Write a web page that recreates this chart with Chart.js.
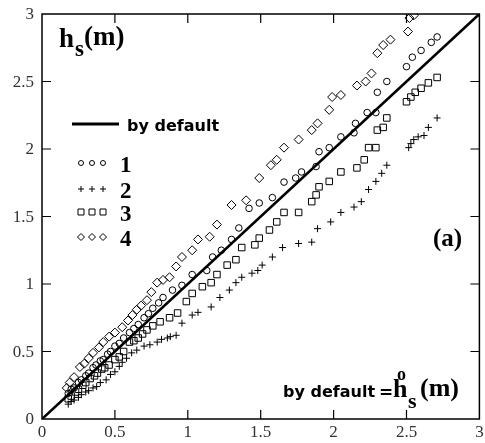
<!DOCTYPE html>
<html><head><meta charset="utf-8">
<script src="https://cdn.jsdelivr.net/npm/chart.js@4.4.1/dist/chart.umd.min.js"></script>
<style>html,body{margin:0;padding:0;background:#fff;} #wrap{width:485px;height:443px;position:relative;}</style>
</head><body><div id="wrap"><canvas id="c"></canvas></div>
<script>
// ---- data ----
const tickValues = [0, 0.5, 1, 1.5, 2, 2.5, 3];
const tickLabels = ["0", "0.5", "1", "1.5", "2", "2.5", "3"];
const lineX = [0, 3];
const lineY = [0, 3];
const seriesNames = ["by default", "1", "2", "3", "4"];

// series 1 (circles)
const s1X = [0.18,0.2,0.22,0.25,0.27,0.3,0.32,0.35,0.37,0.4,0.42,0.45,0.47,0.5,0.53,0.56,0.6,0.63,0.66,0.7,0.73,0.76,0.8,
  0.83,0.895,0.96,1.03,1.13,1.17,1.23,1.30,1.35,1.42,1.49,1.58,1.66,1.74,1.78,1.88,1.90,1.97,2.05,2.14,2.15,2.23,2.29,2.30,2.365,2.50,2.54,2.60,2.67,2.71];
const s1Y = [0.19,0.22,0.23,0.27,0.29,0.32,0.34,0.38,0.40,0.43,0.44,0.48,0.50,0.54,0.56,0.60,0.64,0.67,0.70,0.75,0.78,0.82,0.86,
  0.90,0.955,0.99,1.07,1.10,1.20,1.25,1.33,1.415,1.56,1.60,1.64,1.755,1.785,1.83,1.87,1.98,2.01,2.09,2.12,2.19,2.27,2.27,2.42,2.50,2.61,2.68,2.73,2.79,2.83];

// series 2 (plus)
const s2X = [0.18,0.2,0.22,0.25,0.27,0.3,0.32,0.35,0.375,0.4,0.44,0.47,0.50,0.53,0.55,0.58,0.615,0.65,0.70,0.74,0.79,0.82,0.86,0.88,0.92,0.96,1.03,1.07,1.16,1.22,1.285,1.33,1.37,1.44,1.48,1.51,1.58,1.65,1.76,1.85,1.89,1.98,2.05,2.14,2.19,2.24,2.29,2.33,2.365,2.515,2.53,2.55,2.58,2.62,2.65,2.71];
const s2Y = [0.11,0.13,0.14,0.16,0.18,0.20,0.21,0.23,0.24,0.27,0.29,0.33,0.35,0.39,0.42,0.45,0.49,0.51,0.54,0.55,0.57,0.59,0.60,0.61,0.62,0.71,0.77,0.79,0.83,0.90,0.955,1.01,1.05,1.08,1.10,1.14,1.20,1.27,1.30,1.31,1.41,1.46,1.53,1.57,1.61,1.70,1.76,1.82,1.88,2.01,2.04,2.07,2.09,2.10,2.16,2.23];

// series 3 (squares)
const s3X = [0.18,0.2,0.23,0.25,0.28,0.3,0.33,0.36,0.38,0.41,0.43,0.46,0.5,0.53,0.56,0.60,0.63,0.66,0.69,0.72,0.76,0.81,0.875,0.93,0.99,1.03,1.10,1.16,1.20,1.27,1.33,1.37,1.46,1.49,1.56,1.61,1.66,1.76,1.85,1.88,1.90,1.97,2.05,2.16,2.21,2.24,2.29,2.30,2.34,2.365,2.50,2.53,2.56,2.60,2.65,2.71];
const s3Y = [0.15,0.17,0.20,0.22,0.25,0.27,0.30,0.32,0.34,0.37,0.38,0.40,0.44,0.46,0.50,0.57,0.58,0.60,0.63,0.66,0.69,0.72,0.75,0.785,0.87,0.93,0.98,1.01,1.07,1.14,1.18,1.27,1.29,1.34,1.40,1.46,1.53,1.53,1.61,1.66,1.72,1.76,1.83,1.86,1.92,2.01,2.01,2.14,2.16,2.23,2.35,2.385,2.42,2.45,2.49,2.53];

// series 4 (diamonds)
const s4X = [0.17,0.19,0.22,0.26,0.29,0.32,0.35,0.39,0.42,0.46,0.5,0.55,0.59,0.62,0.65,0.68,0.72,0.75,0.79,0.83,0.875,0.92,0.96,1.03,1.07,1.15,1.20,1.30,1.40,1.49,1.57,1.61,1.66,1.76,1.85,1.89,1.97,1.99,2.05,2.16,2.22,2.26,2.30,2.34,2.39,2.51,2.52,2.55];
const s4Y = [0.23,0.27,0.31,0.385,0.41,0.45,0.49,0.53,0.57,0.61,0.64,0.68,0.73,0.77,0.81,0.84,0.88,0.94,1.01,1.03,1.05,1.13,1.20,1.25,1.33,1.35,1.44,1.585,1.62,1.785,1.88,1.92,2.01,2.07,2.14,2.19,2.29,2.385,2.40,2.47,2.50,2.56,2.71,2.77,2.81,2.87,2.97,2.99];

const pts = (xs, ys) => xs.map((x, i) => ({x: x, y: ys[i]}));

const SERIF = '"Liberation Serif", serif';
const SANS = '"DejaVu Sans", sans-serif';

function sym(ctx, type, x, y) {
  ctx.beginPath();
  if (type === 'circle') { ctx.arc(x, y, 2.5, 0, Math.PI * 2); }
  else if (type === 'cross') { ctx.moveTo(x - 3, y); ctx.lineTo(x + 3, y); ctx.moveTo(x, y - 3); ctx.lineTo(x, y + 3); }
  else if (type === 'rect') { ctx.rect(x - 3, y - 3, 6, 6); }
  else { ctx.moveTo(x, y - 3.5); ctx.lineTo(x + 3.5, y); ctx.lineTo(x, y + 3.5); ctx.lineTo(x - 3.5, y); ctx.closePath(); }
  ctx.stroke();
}

const decor = {
  id: 'decor',
  afterDraw(chart) {
    const ctx = chart.ctx;
    const a = chart.chartArea;
    const xs = chart.scales.x, ys = chart.scales.y;
    ctx.save();
    ctx.strokeStyle = '#000';
    ctx.lineWidth = 1.5;
    ctx.strokeRect(a.left, a.top, a.right - a.left, a.bottom - a.top);
    const TL = 9;
    ctx.lineWidth = 1.2;
    ctx.beginPath();
    tickValues.slice(1, -1).forEach(v => {
      const px = xs.getPixelForValue(v);
      ctx.moveTo(px, a.bottom); ctx.lineTo(px, a.bottom - TL);
      ctx.moveTo(px, a.top); ctx.lineTo(px, a.top + TL);
      const py = ys.getPixelForValue(v);
      ctx.moveTo(a.left, py); ctx.lineTo(a.left + TL, py);
      ctx.moveTo(a.right, py); ctx.lineTo(a.right - TL, py);
    });
    ctx.stroke();

    // tick labels
    ctx.fillStyle = '#333';
    ctx.font = '17px ' + SERIF;
    ctx.textAlign = 'right'; ctx.textBaseline = 'middle';
    tickValues.forEach((v, i) => ctx.fillText(tickLabels[i], a.left - 8, ys.getPixelForValue(v) + 1));
    ctx.textAlign = 'center'; ctx.textBaseline = 'top';
    tickValues.forEach((v, i) => ctx.fillText(tickLabels[i], xs.getPixelForValue(v), a.bottom + 5));

    ctx.fillStyle = '#000';
    ctx.textBaseline = 'alphabetic';
    ctx.textAlign = 'left';
    // title h_s(m)
    ctx.font = 'bold 27px ' + SERIF;
    ctx.fillText('h', 59, 47);
    ctx.font = 'bold 23px ' + SERIF;
    ctx.fillText('s', 75, 56);
    ctx.font = 'bold 27px ' + SERIF;
    ctx.fillText('(m)', 84, 45);

    // legend
    ctx.lineWidth = 2.8;
    ctx.beginPath(); ctx.moveTo(72, 124); ctx.lineTo(119, 124); ctx.stroke();
    ctx.font = 'bold 16px ' + SANS;
    ctx.fillText(seriesNames[0], 127, 131);
    const types = ['circle', 'cross', 'rect', 'rectRot'];
    const rowsY = [163, 189, 212, 237];
    ctx.lineWidth = 1;
    types.forEach((t, i) => {
      [81, 92, 103].forEach(x => sym(ctx, t, x, rowsY[i]));
      ctx.font = 'bold 23px ' + SERIF;
      ctx.fillText(seriesNames[i + 1], 120, rowsY[i] + 9);
    });

    // (a)
    ctx.font = 'bold 25px ' + SERIF;
    ctx.fillText('(a)', 433, 246);

    // by default = h_s^o (m)
    ctx.font = 'bold 16px ' + SANS;
    ctx.fillText('by default', 283, 397);
    ctx.font = 'bold 17px ' + SANS;
    ctx.fillText('=', 379, 398);
    ctx.font = 'bold 26px ' + SERIF;
    ctx.fillText('h', 393, 397);
    ctx.font = 'bold 18px ' + SERIF;
    ctx.fillText('o', 397, 380);
    ctx.font = 'bold 22px ' + SERIF;
    ctx.fillText('s', 408, 408);
    ctx.font = 'bold 26px ' + SERIF;
    ctx.fillText('(m)', 420, 396);
    ctx.restore();
  }
};

const mk = (label, xs, ys, style, r) => ({
  type: 'scatter', label: label, data: pts(xs, ys), pointStyle: style, pointRadius: r,
  borderColor: '#000', backgroundColor: 'rgba(0,0,0,0)', pointBorderWidth: 1, showLine: false
});

new Chart(document.getElementById('c'), {
  type: 'scatter',
  data: {
    datasets: [
      { type: 'line', label: seriesNames[0], data: pts(lineX, lineY), borderColor: '#000', borderWidth: 2.6, pointRadius: 0, fill: false },
      mk(seriesNames[1], s1X, s1Y, 'circle', 3.3),
      mk(seriesNames[2], s2X, s2Y, 'cross', 3.5),
      mk(seriesNames[3], s3X, s3Y, 'rect', 4.6),
      mk(seriesNames[4], s4X, s4Y, 'rectRot', 4.5)
    ]
  },
  options: {
    responsive: true, maintainAspectRatio: false, animation: false, events: [],
    layout: { padding: { top: 14, right: 4, left: 0, bottom: 0 } },
    plugins: { legend: { display: false }, tooltip: { enabled: false } },
    scales: {
      x: {
        type: 'linear', min: 0, max: 3,
        afterBuildTicks: s => { s.ticks = tickValues.map(v => ({ value: v })); },
        afterFit: s => { s.height = 24; },
        grid: { display: false, drawTicks: false }, border: { display: false },
        ticks: { display: false }
      },
      y: {
        type: 'linear', min: 0, max: 3,
        afterBuildTicks: s => { s.ticks = tickValues.map(v => ({ value: v })); },
        afterFit: s => { s.width = 42; },
        grid: { display: false, drawTicks: false }, border: { display: false },
        ticks: { display: false }
      }
    }
  },
  plugins: [decor]
});
</script>
</body></html>
